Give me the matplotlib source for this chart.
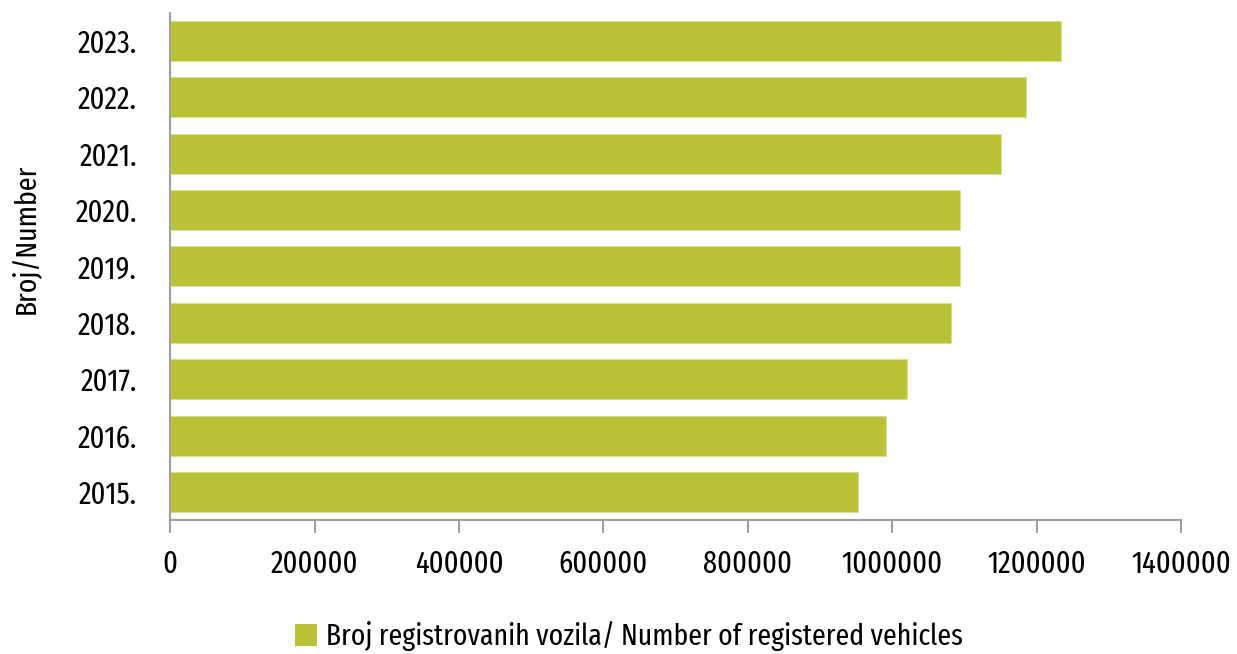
import numpy as np
import matplotlib
matplotlib.use("Agg")
from matplotlib import pyplot as plt
from matplotlib.patches import Patch
from matplotlib import font_manager as fm
from matplotlib.textpath import TextPath

# data
years = ["2015.", "2016.", "2017.", "2018.", "2019.", "2020.", "2021.", "2022.", "2023."]
vehicles = [952600, 991000, 1020900, 1081000, 1094300, 1093500, 1150700, 1184900, 1234200]
xticks = [0, 200000, 400000, 600000, 800000, 1000000, 1200000, 1400000]
legend_label = "Broj registrovanih vozila/ Number of registered vehicles"

bar_color = "#B9C337"
axis_color = "#A0A0A0"

# pick a narrow font close to the condensed face of the original
installed = set(f.name for f in fm.fontManager.ttflist)
font = "DejaVu Sans"
for name in ["Fira Sans Extra Condensed", "PT Sans Narrow", "Fira Sans Condensed",
             "Roboto Condensed", "Asap Condensed", "IBM Plex Sans Condensed"]:
    if name in installed:
        font = name
        break
plt.rcParams["font.family"] = [font, "DejaVu Sans"]

def size_for(text, width_px):
    w = TextPath((0, 0), text, size=1, prop=fm.FontProperties(family=font)).get_extents().width
    return width_px / w * 72 / 100

fs = size_for("200000", 85.7)
fs_leg = size_for(legend_label, 633)
fs_lab = size_for("Broj/Number", 148)

fig = plt.figure(figsize=(12.37, 6.54), dpi=100, facecolor="w")
ax = fig.add_axes([170.2/1237, 1-520.3/654, (1181-170.2)/1237, (520.3-12.5)/654])

ypos = np.arange(len(years))
ax.barh(ypos, vehicles, height=0.71, color=bar_color, edgecolor="#D9DE94", linewidth=0.6)

ax.set_xlim(0, 1400000)
ax.set_ylim(-0.5, len(years) - 0.5)
ax.set_xticks(xticks)
ax.set_xticklabels([str(t) for t in xticks], fontsize=fs)
ax.set_yticks(ypos)
ax.set_yticklabels(years, fontsize=fs)

for s in ["top", "right"]:
    ax.spines[s].set_visible(False)
for s in ["left", "bottom"]:
    ax.spines[s].set_color(axis_color)
    ax.spines[s].set_linewidth(1.5)

ax.tick_params(axis="x", direction="out", length=9, width=1.5, color=axis_color, pad=12)
ax.tick_params(axis="y", length=0, pad=24)

fig.text(25/1237, 1-239/654, "Broj/Number", rotation=90, fontsize=fs_lab,
         ha="center", va="center")

handle = Patch(facecolor=bar_color, edgecolor="none")
fig.legend([handle], [legend_label],
           loc="center", bbox_to_anchor=(629/1237, 1-636/654), frameon=False,
           fontsize=fs_leg, handlelength=0.75, handleheight=0.75, handletextpad=0.3,
           borderpad=0)

plt.savefig("out.png", dpi=100, facecolor="w")
